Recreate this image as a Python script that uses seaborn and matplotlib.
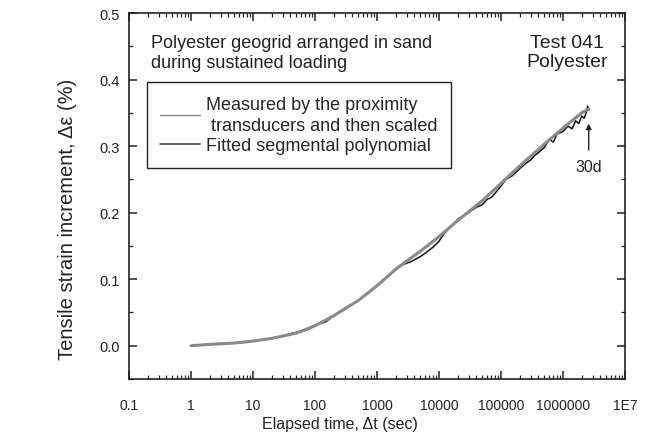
import matplotlib
matplotlib.use("Agg")
import matplotlib.pyplot as plt
import seaborn as sns
import pandas as pd
import numpy as np

# Smooth series (light grey) - "Measured ... scaled"
measured_t = [1, 2, 5, 10, 20, 50, 100, 200, 500, 1000, 2000, 3000, 5000, 10000,
              20000, 50000, 100000, 200000, 500000, 1000000, 2000000, 2600000]
measured_y = [0.000, 0.002, 0.004, 0.007, 0.011, 0.019, 0.030, 0.045, 0.068, 0.090,
              0.115, 0.127, 0.142, 0.164, 0.188, 0.218, 0.244, 0.270, 0.303, 0.327,
              0.350, 0.356]

# Jagged series (black) - "Fitted segmental polynomial"
fitted_t = [1, 2, 3, 5, 7, 10, 15, 20, 30, 40, 50, 60, 80, 100, 150, 200, 300, 500,
            700, 1000, 1500, 2000, 2500, 3000, 3500, 4000, 5000, 6000, 7000, 8000,
            10000, 12000, 15000, 18000, 20000, 25000, 30000, 40000, 50000, 60000,
            70000, 80000, 100000, 120000, 150000, 180000, 200000, 250000, 300000,
            350000, 400000, 500000, 600000, 700000, 800000, 1000000, 1200000,
            1400000, 1600000, 1800000, 2000000, 2200000, 2400000, 2500000, 2600000]
fitted_y = [0.000, 0.002, 0.003, 0.004, 0.005, 0.007, 0.009, 0.011, 0.014, 0.018,
            0.020, 0.021, 0.025, 0.031, 0.036, 0.045, 0.056, 0.068, 0.079, 0.091,
            0.104, 0.114, 0.121, 0.124, 0.126, 0.129, 0.134, 0.139, 0.144, 0.148,
            0.157, 0.168, 0.178, 0.184, 0.190, 0.196, 0.200, 0.208, 0.212, 0.220,
            0.223, 0.229, 0.240, 0.250, 0.255, 0.262, 0.266, 0.274, 0.279, 0.286,
            0.290, 0.298, 0.310, 0.306, 0.318, 0.322, 0.330, 0.326, 0.338, 0.334,
            0.345, 0.342, 0.352, 0.360, 0.354]

x_ticks = [0.1, 1, 10, 100, 1000, 10000, 100000, 1000000, 10000000]
x_tick_labels = ["0.1", "1", "10", "100", "1000", "10000", "100000", "1000000", "1E7"]
y_ticks = [0.0, 0.1, 0.2, 0.3, 0.4, 0.5]
y_tick_labels = ["0.0", "0.1", "0.2", "0.3", "0.4", "0.5"]

sns.set_style("ticks")
plt.rcParams["font.family"] = ["Liberation Sans", "DejaVu Sans"]

fig = plt.figure(figsize=(6.52, 4.39), dpi=100)
ax = fig.add_axes([129 / 652, 1 - 380 / 439, 496 / 652, 366 / 439])

df_fit = pd.DataFrame({"t": fitted_t, "y": fitted_y})
df_meas = pd.DataFrame({"t": measured_t, "y": measured_y})

sns.lineplot(data=df_fit, x="t", y="y", ax=ax, color="#111111", lw=1.1,
             label="Fitted segmental polynomial", zorder=2, estimator=None, sort=False)
sns.lineplot(data=df_meas, x="t", y="y", ax=ax, color="#8a8a8a", lw=2.2,
             label="Measured by the proximity\n transducers and then scaled", zorder=3,
             estimator=None, sort=False)

ax.set_xscale("log")
ax.set_xlim(0.1, 1e7)
ax.set_ylim(-0.05, 0.5)
ax.set_xticks(x_ticks)
ax.set_xticklabels(x_tick_labels, fontsize=10)
ax.xaxis.set_minor_locator(matplotlib.ticker.LogLocator(base=10, subs=np.arange(2, 10)))
ax.xaxis.set_minor_formatter(matplotlib.ticker.NullFormatter())
ax.set_yticks(y_ticks)
ax.set_yticklabels(y_tick_labels, fontsize=10.5)
ax.yaxis.set_minor_locator(matplotlib.ticker.MultipleLocator(0.05))

ax.tick_params(which="both", direction="in", top=True, right=True, colors="#222222")
ax.tick_params(which="major", length=6, width=1.1)
ax.tick_params(which="minor", length=3, width=0.9)
ax.tick_params(axis="x", which="major", pad=14, labelcolor="#222222")
ax.tick_params(axis="y", which="major", pad=6.5, labelcolor="#222222")
for s in ax.spines.values():
    s.set_linewidth(1.2)
    s.set_color("#222222")

ax.set_xlabel("Elapsed time, \u0394t (sec)", fontsize=11.5, color="#222222")
ax.xaxis.set_label_coords(0.425, -0.10)
ax.set_ylabel("Tensile strain increment, \u0394\u03b5 (%)", fontsize=14.5,
              color="#222222")
ax.yaxis.set_label_coords(-0.105, 0.44)

# Legend ordered: Measured first
handles, labels = ax.get_legend_handles_labels()
order = [1, 0]
leg = ax.legend([handles[i] for i in order], [labels[i] for i in order],
                loc="upper left", bbox_to_anchor=(0.036, 0.811), borderaxespad=0,
                fontsize=13, frameon=True, fancybox=False, edgecolor="#222222",
                framealpha=1, handlelength=2.2, borderpad=0.75, labelspacing=0.2,
                handletextpad=0.35)
for t in leg.get_texts():
    t.set_linespacing(1.3)
leg.get_frame().set_linewidth(1.0)
leg.get_lines()[0].set_linewidth(1.0)
leg.get_lines()[1].set_linewidth(1.2)
leg.get_lines()[1].set_color("#444444")

ax.text(0.045, 0.893, "Polyester geogrid arranged in sand\nduring sustained loading",
        transform=ax.transAxes, fontsize=13, va="center", ha="left", color="#222222",
        linespacing=1.25)
ax.text(0.883, 0.893, "Test 041\nPolyester", transform=ax.transAxes, fontsize=14,
        va="center", ha="center", multialignment="center", color="#222222",
        linespacing=1.15)

ax.annotate("", xy=(2.6e6, 0.338), xytext=(2.6e6, 0.29),
            arrowprops=dict(arrowstyle="-|>", color="#222222", lw=1.0,
                            mutation_scale=8))
ax.text(2.6e6, 0.27, "30d", fontsize=11.5, ha="center", va="center", color="#222222")

fig.savefig("out.png", dpi=100)
